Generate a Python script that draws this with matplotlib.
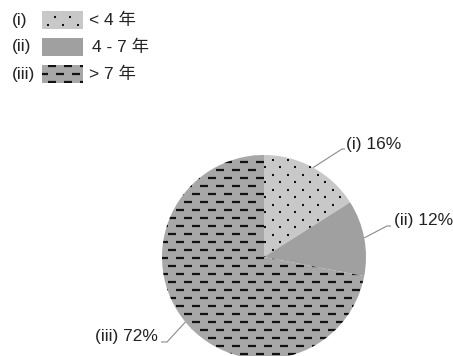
import numpy as np
import matplotlib
matplotlib.use("Agg")
import matplotlib.pyplot as plt
from matplotlib.collections import LineCollection
from matplotlib.patches import Rectangle

# ---- data ----
keys = ["(i)", "(ii)", "(iii)"]
categories = ["< 4 年", "4 - 7 年", "> 7 年"]
values = [16, 12, 72]
slice_labels = ["(i) 16%", "(ii) 12%", "(iii) 72%"]

W, H = 453, 356
FONT = ["Liberation Sans", "Noto Sans CJK SC", "DejaVu Sans"]
FS = 12.5
colors = ["#c8c8c8", "#a0a0a0", "#a7a7a7"]
patterns = ["dots", None, "dashes"]

fig = plt.figure(figsize=(W / 100, H / 100), dpi=100)
ax = fig.add_axes([0, 0, 1, 1])

cx, cy, R = 264, H - 257, 102
wedges, _ = ax.pie(values, colors=colors, startangle=90, counterclock=False,
                   center=(cx, cy), radius=R,
                   wedgeprops=dict(edgecolor="none", linewidth=0))
ax.set_xlim(0, W)
ax.set_ylim(0, H)
ax.set_aspect("equal")
ax.axis("off")


def add_pattern(patch, kind, x0, x1, y0, y1):
    segs = []
    if kind == "dashes":
        k = 0
        y = H - 201.7 + 8 * 40
        while y > y0 - 8:
            if y < y1 + 8:
                off = 8 * (k % 2)
                x = 200 - 16 * 20 + off
                while x < x1 + 16:
                    if x > x0 - 16:
                        segs.append([(x, y), (x + 8, y)])
                    x += 16
            y -= 8
            k += 1
        lw = 1.6
    else:
        k = 0
        y = H - 159.7 + 7.5 * 40
        while y > y0 - 8:
            if y < y1 + 8:
                off = 7.5 * (k % 2)
                x = 272.7 - 15 * 20 + off
                while x < x1 + 15:
                    if x > x0 - 15:
                        segs.append([(x - 1, y), (x + 1, y)])
                    x += 15
            y -= 7.5
            k += 1
        lw = 1.5
    lc = LineCollection(segs, colors="#111111", linewidths=lw, capstyle="butt")
    ax.add_collection(lc)
    lc.set_clip_path(patch)


for w, p in zip(wedges, patterns):
    if p:
        add_pattern(w, p, cx - R, cx + R, cy - R, cy + R)

# ---- slice labels with leader lines ----
cum = np.cumsum([0] + values[:-1])
mids = [90 - 360 * (c + v / 2) / 100 for c, v in zip(cum, values)]
label_pos = [((342, 149), (345, 149), 346, 144, "left"),
             ((387, 226), (391, 226), 394, 221, "left"),
             ((167, 342), (161, 342), 158, 337, "right")]
for ang, lab, (elb, end, tx, ty, ha) in zip(mids, slice_labels, label_pos):
    ax0 = cx + R * np.cos(np.radians(ang))
    ay0 = cy + R * np.sin(np.radians(ang))
    ax.plot([ax0, elb[0], end[0]], [ay0, H - elb[1], H - end[1]],
            color="#8a8a8a", lw=0.8, solid_capstyle="butt")
    ax.text(tx, H - ty, lab, ha=ha, va="center", fontsize=FS,
            family=FONT, color="#222222")

# ---- legend ----
row_y = [20, 47, 74]
for key, cat, col, p, yy in zip(keys, categories, colors, patterns, row_y):
    ax.text(12, H - yy, key, ha="left", va="center", fontsize=FS,
            family=FONT, color="#222222")
    rect = Rectangle((42, H - yy - 9), 41, 18, facecolor=col, edgecolor="none")
    ax.add_patch(rect)
    if p:
        add_pattern(rect, p, 42, 83, H - yy - 9, H - yy + 9)
    ax.text(89 if cat[0] in "<>" else 92, H - yy, cat, ha="left", va="center",
            fontsize=FS, family=FONT, color="#222222")

fig.savefig("out.png", dpi=100)
